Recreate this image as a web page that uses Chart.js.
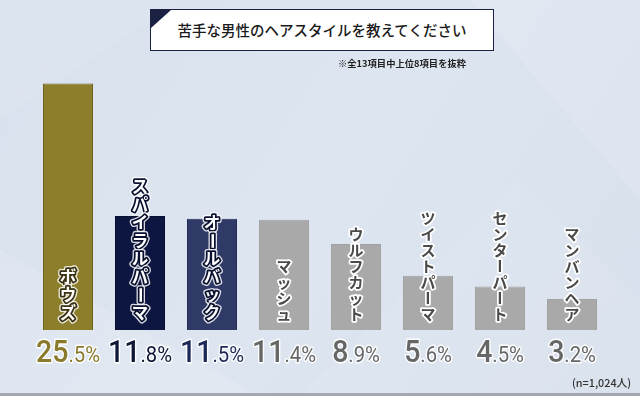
<!DOCTYPE html>
<html lang="ja">
<head>
<meta charset="utf-8">
<script src="https://cdn.jsdelivr.net/npm/chart.js@4"></script>
<style>
  html, body { margin: 0; padding: 0; }
  body { width: 640px; height: 396px; position: relative; overflow: hidden; background: #dbe3ee; }
  #wrap { position: absolute; left: 0; top: 0; width: 640px; height: 396px; }
  #titleBox {
    position: absolute; left: 150px; top: 9px; width: 342px; height: 40px;
    background: #fff; border: 1.5px solid #1b2142;
    font-family: "Noto Sans CJK JP", sans-serif; font-weight: 500; font-size: 14.5px;
    color: #1a1a1a; text-align: center; line-height: 40px; letter-spacing: 0px;
  }
  #titleBox .tri {
    position: absolute; left: 0; top: 0; width: 0; height: 0;
    border-top: 18px solid #1b2142; border-right: 20px solid transparent;
  }
  #sub {
    position: absolute; left: 338px; top: 56px;
    font-family: "Noto Sans CJK JP", sans-serif; font-weight: 700; font-size: 9.3px; color: #222;
    white-space: nowrap;
  }
  #note {
    position: absolute; left: 572px; top: 374px;
    font-family: "Noto Sans CJK JP", sans-serif; font-weight: 500; font-size: 10.8px; color: #333;
    white-space: nowrap;
  }
  #baseLine { position: absolute; left: 0; top: 393px; width: 640px; height: 3px; background: #a3a8b0; }
</style>
</head>
<body>
<div id="wrap"><canvas id="c" width="640" height="396"></canvas></div>
<div id="titleBox"><div class="tri"></div>苦手な男性のヘアスタイルを教えてください</div>
<div id="sub">※全13項目中上位8項目を抜粋</div>
<div id="note">(n=1,024人)</div>
<div id="baseLine"></div>
<script>
// ---- data ----
const categories = ["ボウズ", "スパイラルパーマ", "オールバック", "マッシュ", "ウルフカット", "ツイストパーマ", "センターパート", "マンバンヘア"];
const values = [25.5, 11.8, 11.5, 11.4, 8.9, 5.6, 4.5, 3.2];

// ---- styles ----
const barColors = ["#8d7e2c", "#0c1640", "#2f3b66", "#a9a9a9", "#a9a9a9", "#a9a9a9", "#a9a9a9", "#a9a9a9"];
const barBorders = ["#6f621c", "#080f30", "#222d55", "#a2a2a2", "#a2a2a2", "#a2a2a2", "#a2a2a2", "#a2a2a2"];
const pctColors = ["#8a7a2c", "#0f1738", "#1d2856", "#666666", "#666666", "#666666", "#666666", "#666666"];

const bgPlugin = {
  id: "bg",
  beforeDraw(chart) {
    const ctx = chart.ctx;
    ctx.save();
    const g = ctx.createLinearGradient(0, 0, 640, 396);
    g.addColorStop(0, "#d8e1ed");
    g.addColorStop(0.5, "#dde5f0");
    g.addColorStop(1, "#d7e0ec");
    ctx.fillStyle = g;
    ctx.fillRect(0, 0, 640, 396);
    ctx.fillStyle = "rgba(255,255,255,0.12)";
    ctx.beginPath(); ctx.moveTo(0, 250); ctx.lineTo(260, 396); ctx.lineTo(0, 396); ctx.closePath(); ctx.fill();
    ctx.beginPath(); ctx.moveTo(470, 0); ctx.lineTo(640, 0); ctx.lineTo(640, 200); ctx.closePath(); ctx.fill();
    ctx.fillStyle = "rgba(255,255,255,0.08)";
    ctx.beginPath(); ctx.moveTo(300, 396); ctx.lineTo(520, 180); ctx.lineTo(640, 300); ctx.lineTo(640, 396); ctx.closePath(); ctx.fill();
    ctx.beginPath(); ctx.moveTo(0, 0); ctx.lineTo(180, 0); ctx.lineTo(0, 120); ctx.closePath(); ctx.fill();
    ctx.restore();
  }
};

const labelPlugin = {
  id: "labels",
  afterDatasetsDraw(chart) {
    const ctx = chart.ctx;
    const meta = chart.getDatasetMeta(0);
    const yBase = chart.scales.y.getPixelForValue(0);
    ctx.save();
    meta.data.forEach((bar, i) => {
      const x = bar.x;
      // vertical label
      const hi = i < 3;
      const step = hi ? 18 : 16;
      const fs = hi ? 16.5 : 15;
      const chars = Array.from(categories[i]);
      const bottom = yBase - 8;
      ctx.font = "700 " + fs + "px 'Noto Sans CJK JP', sans-serif";
      ctx.textAlign = "center";
      ctx.textBaseline = "middle";
      ctx.lineJoin = "round";
      chars.forEach((ch, k) => {
        const cy = bottom - (chars.length - k - 0.5) * step;
        ctx.save();
        ctx.translate(x, cy);
        if (ch === "ー") ctx.rotate(Math.PI / 2);
        if (hi) {
          ctx.strokeStyle = "rgba(255,255,255,0.85)";
          ctx.lineWidth = 6;
          ctx.strokeText(ch, 0, 0);
          ctx.strokeStyle = i === 0 ? "#3a3110" : "#0a1030";
          ctx.lineWidth = 3.5;
          ctx.strokeText(ch, 0, 0);
          ctx.fillStyle = "#ffffff";
          ctx.fillText(ch, 0, 0);
        } else {
          ctx.strokeStyle = "#ffffff";
          ctx.lineWidth = 3.5;
          ctx.strokeText(ch, 0, 0);
          ctx.fillStyle = "#4a4a4a";
          ctx.fillText(ch, 0, 0);
        }
        ctx.restore();
      });
      // percentage label
      const s = values[i].toFixed(1);
      const intPart = s.split(".")[0];
      const rest = "." + s.split(".")[1] + "%";
      const bigFont = "500 31px Roboto, sans-serif";
      const smallFont = "400 22px Roboto, sans-serif";
      ctx.textBaseline = "alphabetic";
      ctx.textAlign = "left";
      ctx.font = bigFont; const w1 = ctx.measureText(intPart).width;
      ctx.font = smallFont; const w2 = ctx.measureText(rest).width;
      const sx = 0.92;
      const x0 = x - (w1 + w2) * sx / 2;
      const base = 362;
      ctx.save();
      ctx.translate(x0, base);
      ctx.scale(sx, 1);
      ctx.strokeStyle = "rgba(255,255,255,0.9)";
      ctx.lineWidth = 3;
      ctx.font = bigFont; ctx.strokeText(intPart, 0, 0);
      ctx.font = smallFont; ctx.strokeText(rest, w1, 0);
      ctx.fillStyle = pctColors[i];
      ctx.font = bigFont; ctx.fillText(intPart, 0, 0);
      ctx.font = smallFont; ctx.fillText(rest, w1, 0);
      ctx.restore();
    });
    ctx.restore();
  }
};

new Chart(document.getElementById("c"), {
  type: "bar",
  data: {
    labels: categories,
    datasets: [{
      data: values,
      backgroundColor: barColors,
      borderColor: barBorders,
      borderWidth: 1,
      barPercentage: 50 / 72,
      categoryPercentage: 1
    }]
  },
  options: {
    responsive: false,
    animation: false,
    layout: { padding: { left: 32, right: 32, top: 40, bottom: 66 } },
    plugins: { legend: { display: false }, tooltip: { enabled: false }, title: { display: false } },
    scales: {
      x: { display: false, offset: true },
      y: { display: false, min: 0, max: 30 }
    }
  },
  plugins: [bgPlugin, labelPlugin]
});
</script>
</body>
</html>
